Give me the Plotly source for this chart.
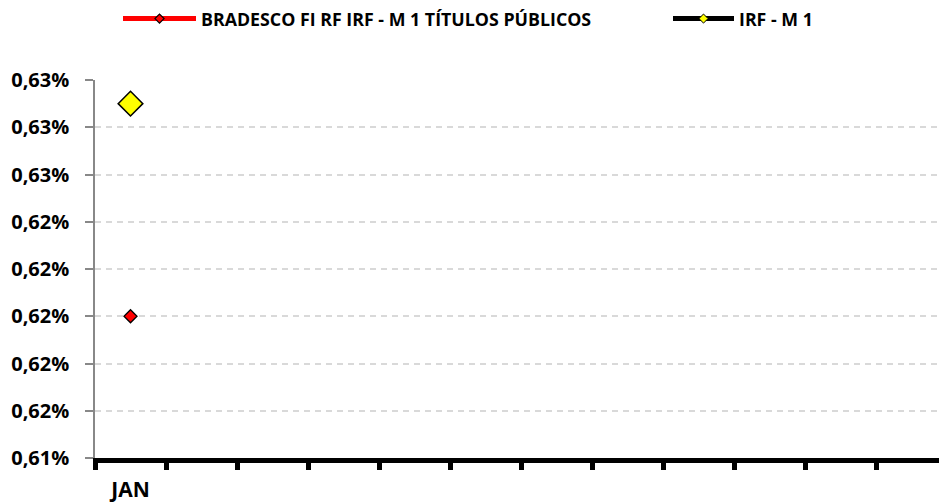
import plotly.graph_objects as go

months = ["JAN", "FEV", "MAR", "ABR", "MAI", "JUN", "JUL", "AGO", "SET", "OUT", "NOV", "DEZ"]
month_labels = ["JAN"] + [""] * 11
fund_name = "BRADESCO FI RF IRF - M 1 TÍTULOS PÚBLICOS"
bench_name = "IRF - M 1"
fund_values = [0.620]   # % in JAN
bench_values = [0.629]  # % in JAN
y_ticks = [0.614, 0.616, 0.618, 0.620, 0.622, 0.624, 0.626, 0.628, 0.630]
y_labels = [f"{v:.2f}".replace(".", ",") + "%" for v in y_ticks]

FONT = "Open Sans"
xs = list(range(len(fund_values)))

# the page body has an 8px margin, so the figure is drawn 8px smaller
W, H, OFF = 947 - 8, 503 - 8, 8

fig = go.Figure()
fig.add_trace(go.Scatter(x=xs, y=fund_values, mode="lines+markers", showlegend=False,
                         line=dict(color="#ff0000", width=5),
                         marker=dict(symbol="diamond", size=10, color="#ff0000",
                                     line=dict(color="black", width=1.3))))
fig.add_trace(go.Scatter(x=xs, y=bench_values, mode="lines+markers", showlegend=False,
                         line=dict(color="black", width=5),
                         marker=dict(symbol="diamond", size=19, color="#ffff00",
                                     line=dict(color="black", width=1.5))))
fig.add_trace(go.Scatter(x=[None], y=[None], mode="lines+markers", name=fund_name,
                         legend="legend",
                         line=dict(color="#ff0000", width=5),
                         marker=dict(symbol="diamond", size=7, color="#ff0000",
                                     line=dict(color="black", width=1.2))))
fig.add_trace(go.Scatter(x=[None], y=[None], mode="lines+markers", name=bench_name,
                         legend="legend2",
                         line=dict(color="black", width=5),
                         marker=dict(symbol="diamond", size=7, color="#ffff00",
                                     line=dict(color="black", width=1))))

legend_font = dict(family=FONT, size=17.8, color="black", weight="bold")
leg_y = 1 - (19 - OFF) / H

fig.update_layout(
    width=W, height=H,
    margin=dict(l=95 - OFF, r=0, t=80 - OFF, b=H - (458 - OFF)),
    plot_bgcolor="white", paper_bgcolor="white",
    font=dict(family=FONT, color="black"),
    legend=dict(orientation="h", xref="container", x=(118 - OFF) / W, xanchor="left",
                yref="container", y=leg_y, yanchor="middle",
                itemwidth=73, font=legend_font, bgcolor="rgba(0,0,0,0)"),
    legend2=dict(orientation="h", xref="container", x=(668 - OFF) / W, xanchor="left",
                 yref="container", y=leg_y, yanchor="middle",
                 itemwidth=61, font=legend_font, bgcolor="rgba(0,0,0,0)"),
    xaxis=dict(range=[-0.5, 11.5], tickvals=list(range(len(months))), ticktext=month_labels,
               ticks="", showgrid=False, zeroline=False,
               showline=True, linecolor="black", linewidth=5,
               tickfont=dict(family=FONT, size=21, weight="bold"),
               ticklabelstandoff=9,
               minor=dict(tick0=-0.5, dtick=1, ticks="outside", ticklen=7, tickwidth=5,
                          tickcolor="black", showgrid=False)),
    yaxis=dict(range=[0.614, 0.630], tickvals=y_ticks, ticktext=y_labels,
               ticks="outside", ticklen=8, tickwidth=1.5, tickcolor="#888888",
               showline=True, linecolor="#888888", linewidth=1.5,
               showgrid=True, gridcolor="#d9d9d9", griddash="6px,5px", gridwidth=1.5,
               zeroline=False, ticklabelstandoff=12,
               tickfont=dict(family=FONT, size=20, weight="bold")),
)
fig.write_html("out.html")
